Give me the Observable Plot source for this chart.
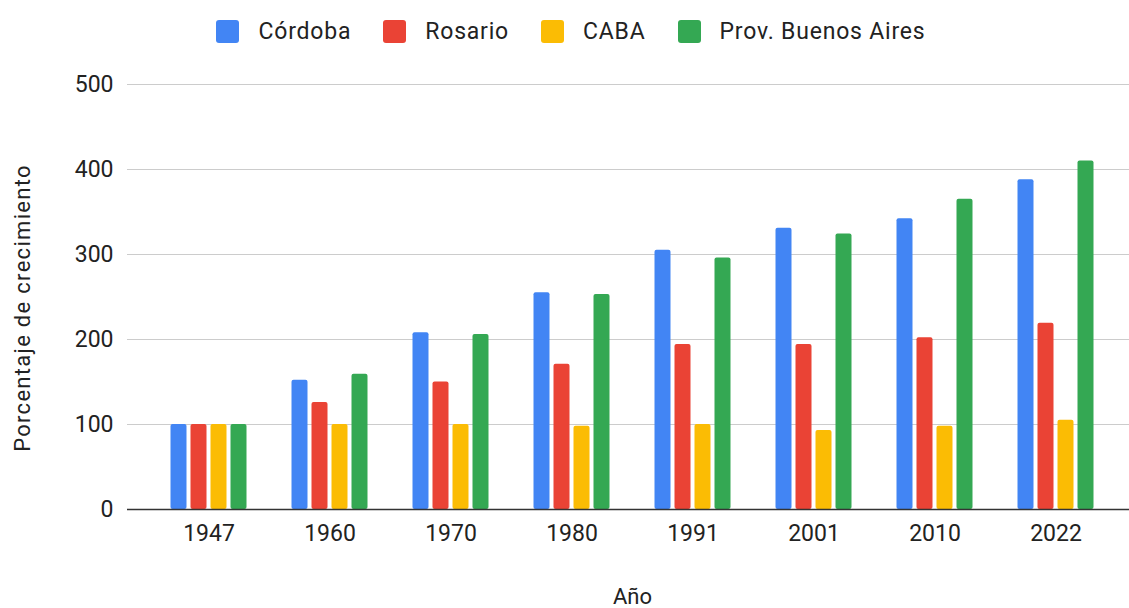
<!DOCTYPE html>
<html>
<head>
<meta charset="utf-8">
<script src="https://cdn.jsdelivr.net/npm/d3@7"></script>
<script src="https://cdn.jsdelivr.net/npm/@observablehq/plot@0.6"></script>
<style>
  html, body { margin: 0; padding: 0; background: #fff; }
  body { width: 1129px; height: 608px; overflow: hidden; font-family: Roboto, "Noto Sans", sans-serif; }
  #legend { height: 62px; display: flex; justify-content: center; align-items: center; padding-left: 13px; box-sizing: border-box; font-size: 23px; letter-spacing: 0.8px; color: #222; }
  .item { display: flex; align-items: center; margin: 0 16px; }
  .sw { width: 23px; height: 23px; border-radius: 3px; margin-right: 19px; }
</style>
</head>
<body>
<div id="legend"></div>
<div id="chart"></div>
<script>
const years = ["1947", "1960", "1970", "1980", "1991", "2001", "2010", "2022"];
const seriesNames = ["Córdoba", "Rosario", "CABA", "Prov. Buenos Aires"];
const cordoba = [100, 152, 208, 255, 305, 331, 342, 388];
const rosario = [100, 126, 150, 171, 194, 194, 202, 219];
const caba = [100, 100, 100, 98, 100, 93, 98, 105];
const provBsAs = [100, 159, 206, 253, 296, 324, 365, 410];
const colors = ["#4285F4", "#EA4335", "#FBBC04", "#34A853"];
const yTicks = [0, 100, 200, 300, 400, 500];
const yTitle = "Porcentaje de crecimiento";
const xTitle = "Año";

const seriesValues = [cordoba, rosario, caba, provBsAs];
const data = [];
seriesNames.forEach((s, i) => years.forEach((y, j) => data.push({year: y, series: s, value: seriesValues[i][j]})));

// legend
const legend = document.getElementById("legend");
seriesNames.forEach((s, i) => {
  const it = document.createElement("div");
  it.className = "item";
  const sw = document.createElement("div");
  sw.className = "sw";
  sw.style.background = colors[i];
  const t = document.createElement("span");
  t.textContent = s;
  it.appendChild(sw); it.appendChild(t);
  legend.appendChild(it);
});

const offsets = [-30, -10, 10, 30];
const barMarks = seriesNames.map((s, i) => Plot.barY(data.filter(d => d.series === s), {
  x: "year", y: "value", fill: colors[i], dx: offsets[i], insetLeft: 52.5, insetRight: 52.5, rx: 2
}));

const chart = Plot.plot({
  width: 1129,
  height: 546,
  marginLeft: 148,
  marginRight: 13,
  marginTop: 22,
  marginBottom: 99,
  style: {fontFamily: "Roboto, sans-serif", fontSize: "23px", color: "#222", background: "#fff"},
  x: {domain: years, padding: 0, label: null},
  y: {domain: [0, 500], label: null},
  marks: [
    Plot.ruleY(yTicks.slice(1), {stroke: "#ccc", strokeWidth: 1.2, insetLeft: -21, insetRight: -13}),
    ...barMarks,
    Plot.ruleY([0], {stroke: "#333", strokeWidth: 1.6, insetLeft: -21, insetRight: -13}),
    Plot.axisY({ticks: yTicks, tickSize: 0, tickPadding: 35, label: null, fill: "#222"}),
    Plot.axisX({tickSize: 0, tickPadding: 15, label: null, fill: "#222"}),
    Plot.text([yTitle], {frameAnchor: "left", textAnchor: "middle", lineAnchor: "middle", rotate: -90, dx: -126, dy: 11, fill: "#222", fontSize: 22}),
    Plot.text([xTitle], {frameAnchor: "bottom", textAnchor: "middle", lineAnchor: "middle", dy: 87, fill: "#222", fontSize: 22})
  ]
});
d3.select(chart).selectAll("text").filter(function() { return this.textContent === yTitle; })
  .style("letter-spacing", "1.3px");
document.getElementById("chart").appendChild(chart);
</script>
</body>
</html>
